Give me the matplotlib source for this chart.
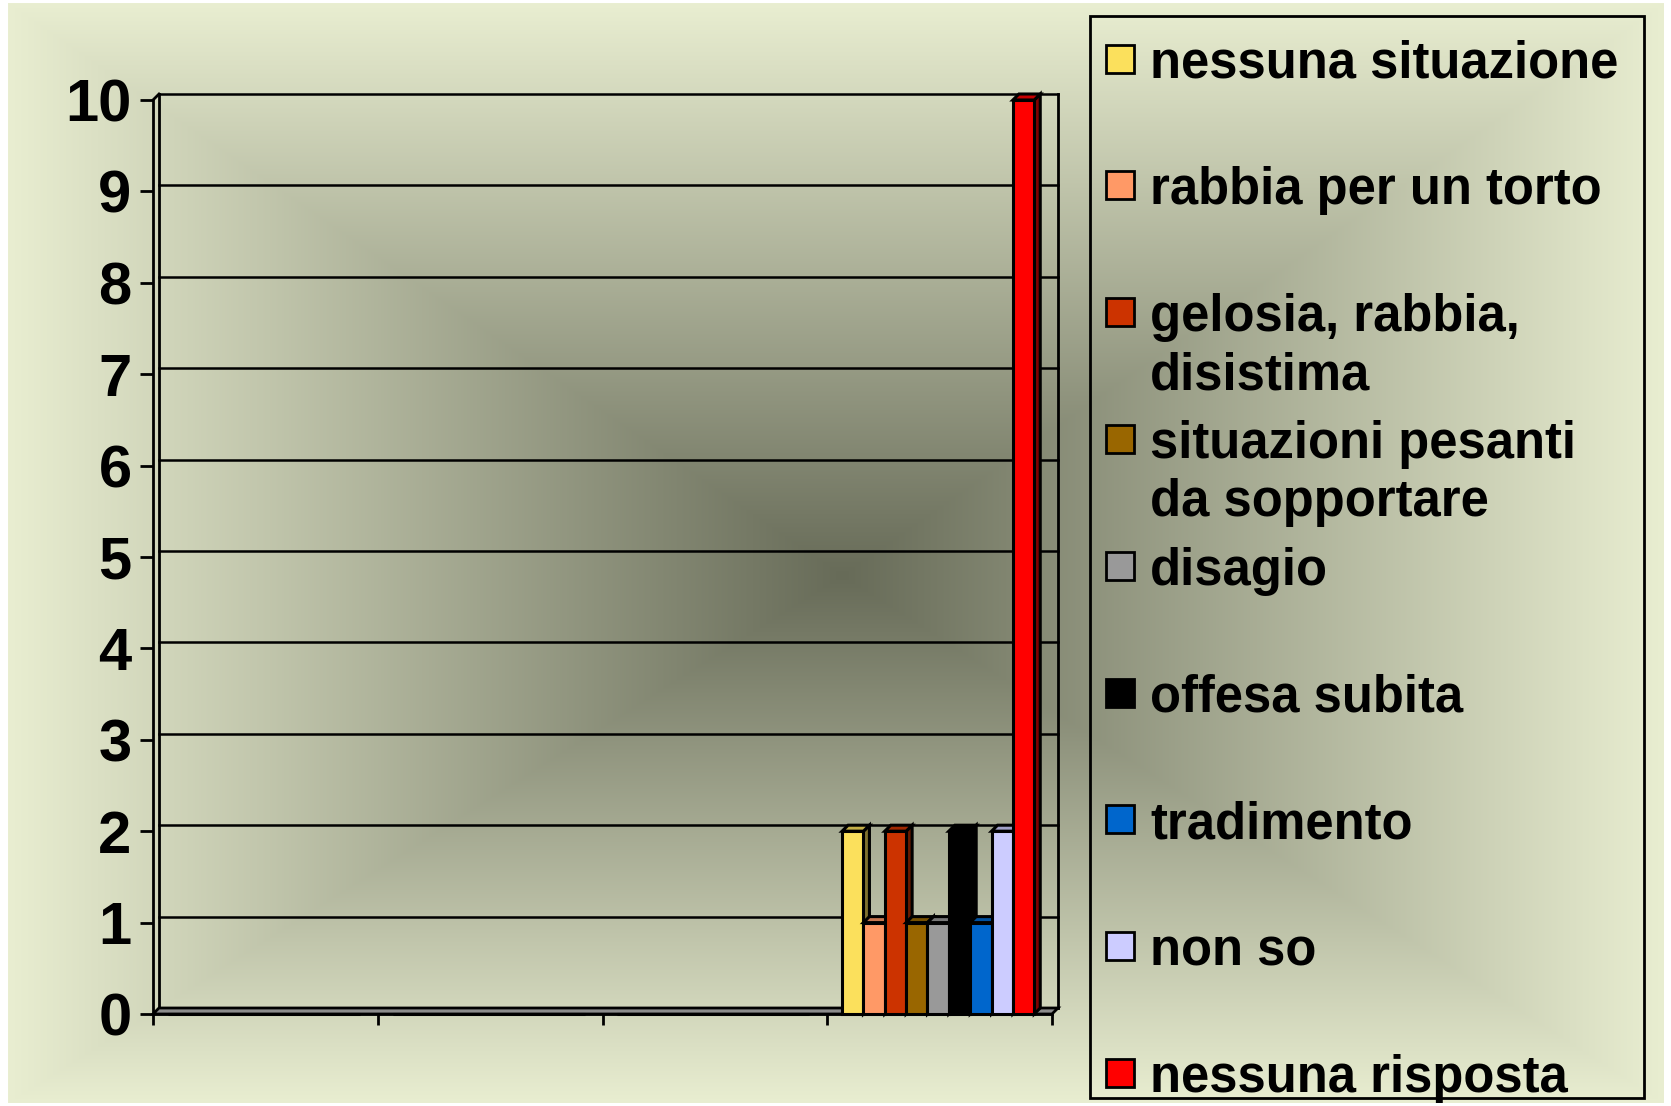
import numpy as np
import matplotlib
matplotlib.use('Agg')
import matplotlib.pyplot as plt
from matplotlib.patches import Rectangle, Polygon
from matplotlib.colors import to_rgb

plt.rcParams['font.family'] = ['Liberation Sans', 'DejaVu Sans']

# dati
categorie = ['', '', '', '']
serie = ['nessuna situazione', 'rabbia per un torto', 'gelosia, rabbia,\ndisistima',
         'situazioni pesanti\nda sopportare', 'disagio', 'offesa subita',
         'tradimento', 'non so', 'nessuna risposta']
valori = [[0, 0, 0, 2], [0, 0, 0, 1], [0, 0, 0, 2], [0, 0, 0, 1], [0, 0, 0, 1],
          [0, 0, 0, 2], [0, 0, 0, 1], [0, 0, 0, 2], [0, 0, 0, 10]]
colori = ['#FBE05C', '#FF9966', '#CC3300', '#996600', '#999999',
          '#000000', '#0066CC', '#CCCCFF', '#FF0000']
yticks = list(range(11))

W, H = 1671, 1106
fig = plt.figure(figsize=(W / 100, H / 100), dpi=100)
fig.patch.set_facecolor('white')

# sfondo sfumato (rettangolare dal centro)
bg = fig.add_axes([0, 0, 1, 1], zorder=-10)
x0, x1, y0, y1 = 8, 1664, 3, 1103
cx, cy = 842, 575
X, Y = np.meshgrid(np.arange(x0, x1), np.arange(y0, y1))
tx = np.where(X < cx, (cx - X) / (cx - x0), (X - cx) / (x1 - cx))
ty = np.where(Y < cy, (cy - Y) / (cy - y0), (Y - cy) / (y1 - cy))
t = np.clip(np.maximum(tx, ty), 0, 1)
scuro = np.array(to_rgb('#676B58'))
chiaro = np.array(to_rgb('#E9EED1'))
img = scuro + (chiaro - scuro) * t[..., None]
bg.imshow(img, extent=[x0, x1, y1, y0], aspect='auto', interpolation='bilinear')
bg.set_xlim(0, W)
bg.set_ylim(H, 0)
bg.axis('off')

# area del grafico (piano frontale)
L, R, B, T = 153, 1052, 1014, 100
ax = fig.add_axes([L / W, 1 - B / H, (R - L) / W, (B - T) / H])
ax.set_xlim(0, len(categorie))
ax.set_ylim(0, 10)
ax.patch.set_visible(False)
px_x = len(categorie) / (R - L)
px_y = 10 / (B - T)
dx, dy = 6 * px_x, 6 * px_y
n = len(categorie)

# parete di fondo: griglia
for v in yticks:
    ax.plot([dx, n + dx], [v + dy, v + dy], color='black', lw=1.8, clip_on=False, zorder=1)
ax.plot([dx, dx], [dy, 10 + dy], color='black', lw=2, clip_on=False, zorder=1)
ax.plot([n + dx, n + dx], [dy, 10 + dy], color='black', lw=2, clip_on=False, zorder=1)
ax.plot([0, dx], [10, 10 + dy], color='black', lw=2, clip_on=False, zorder=1)

# pavimento
ax.add_patch(Polygon([(0, 0), (n, 0), (n + dx, dy), (dx, dy)], closed=True,
                     fc='#8C8C8C', ec='black', lw=2, clip_on=False, zorder=2))

# barre 3D
w = 0.095
g0 = 0.066
for i, (vals, c) in enumerate(zip(valori, colori)):
    xs = np.arange(n) + g0 + w * (i + 0.5)
    rgb = np.array(to_rgb(c))
    bars = ax.bar(xs, vals, width=w, color=c, edgecolor='black', lw=2.2,
                  zorder=10 + 3 * i + 2, clip_on=False)
    for b in bars:
        h = b.get_height()
        if h <= 0:
            continue
        xl = b.get_x()
        xr = xl + b.get_width()
        ax.add_patch(Polygon([(xr, 0), (xr + dx, dy), (xr + dx, h + dy), (xr, h)], closed=True,
                             fc=rgb * 0.5, ec='black', lw=2.2, clip_on=False, zorder=10 + 3 * i))
        ax.add_patch(Polygon([(xl, h), (xr, h), (xr + dx, h + dy), (xl + dx, h + dy)], closed=True,
                             fc=rgb * 0.78, ec='black', lw=2.2, clip_on=False, zorder=10 + 3 * i + 1))

# assi
for s in ['top', 'right']:
    ax.spines[s].set_visible(False)
ax.spines['left'].set_linewidth(2)
ax.spines['bottom'].set_linewidth(2)
ax.set_yticks(yticks)
ax.set_yticklabels([str(v) for v in yticks], fontsize=43, fontweight='bold')
ax.tick_params(axis='y', length=9.4, width=2, pad=6, direction='out')
ax.set_xticks(np.arange(n + 1))
ax.set_xticklabels([''] * (n + 1))
ax.tick_params(axis='x', length=8, width=2, direction='out')

# legenda
fig.add_artist(Rectangle((1090 / W, 1 - 1098 / H), (1644 - 1090) / W, (1098 - 16) / H,
                         transform=fig.transFigure, fill=False, ec='black', lw=2))
for i, nome in enumerate(serie):
    yc = 58.6 + 126.8 * i
    fig.add_artist(Rectangle((1106 / W, 1 - (yc + 14) / H), 28 / W, 28 / H,
                             transform=fig.transFigure, fc=colori[i], ec='black', lw=2))
    fig.text(1150 / W, 1 - (yc - 19) / H, nome, fontsize=36.5, fontweight='bold',
             va='top', ha='left', linespacing=1.24)

fig.savefig('out.png', dpi=100)
